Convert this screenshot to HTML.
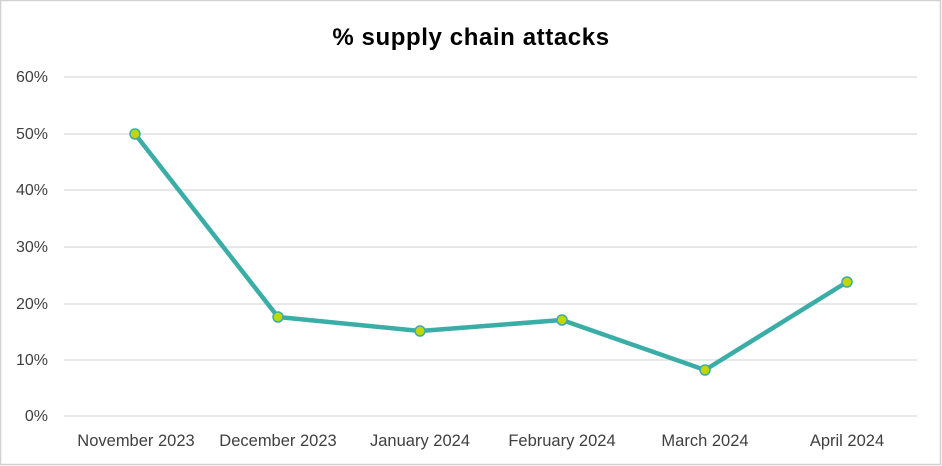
<!DOCTYPE html>
<html><head><meta charset="utf-8"><style>
html,body{margin:0;padding:0;background:#fff;}
svg{display:block;}
text{font-family:"Liberation Sans",sans-serif;}
</style></head><body>
<svg width="942" height="466" viewBox="0 0 942 466" xmlns="http://www.w3.org/2000/svg">
<rect x="0.5" y="0.5" width="940" height="464" fill="#fff" stroke="#d0d0d5" stroke-width="1.5"/>
<text x="471" y="45" text-anchor="middle" font-size="24" font-weight="bold" letter-spacing="0.6" fill="#000">% supply chain attacks</text>
<g stroke="#d9d9d9" stroke-width="1.3">
<line x1="64" x2="917" y1="77" y2="77"/>
<line x1="64" x2="917" y1="134" y2="134"/>
<line x1="64" x2="917" y1="190" y2="190"/>
<line x1="64" x2="917" y1="247" y2="247"/>
<line x1="64" x2="917" y1="304" y2="304"/>
<line x1="64" x2="917" y1="360" y2="360"/>
<line x1="64" x2="917" y1="416" y2="416"/>
</g>
<g font-size="16" fill="#404040" text-anchor="end">
<text x="48" y="82">60%</text>
<text x="48" y="139">50%</text>
<text x="48" y="195">40%</text>
<text x="48" y="252">30%</text>
<text x="48" y="309">20%</text>
<text x="48" y="365">10%</text>
<text x="48" y="421">0%</text>
</g>
<g font-size="16.5" fill="#404040" text-anchor="middle">
<text x="136" y="446">November 2023</text>
<text x="278" y="446">December 2023</text>
<text x="420" y="446">January 2024</text>
<text x="562" y="446">February 2024</text>
<text x="705" y="446">March 2024</text>
<text x="847" y="446">April 2024</text>
</g>
<polyline fill="none" stroke="#3aada6" stroke-width="4.5" stroke-linejoin="round" stroke-linecap="round"
points="135,134 278,317 420,331 562,320 705,370 847,282"/>
<g fill="#c4d600" stroke="#3aada6" stroke-width="1.5">
<circle cx="135" cy="134" r="5"/>
<circle cx="278" cy="317" r="5"/>
<circle cx="420" cy="331" r="5"/>
<circle cx="562" cy="320" r="5"/>
<circle cx="705" cy="370" r="5"/>
<circle cx="847" cy="282" r="5"/>
</g>
</svg>
</body></html>
